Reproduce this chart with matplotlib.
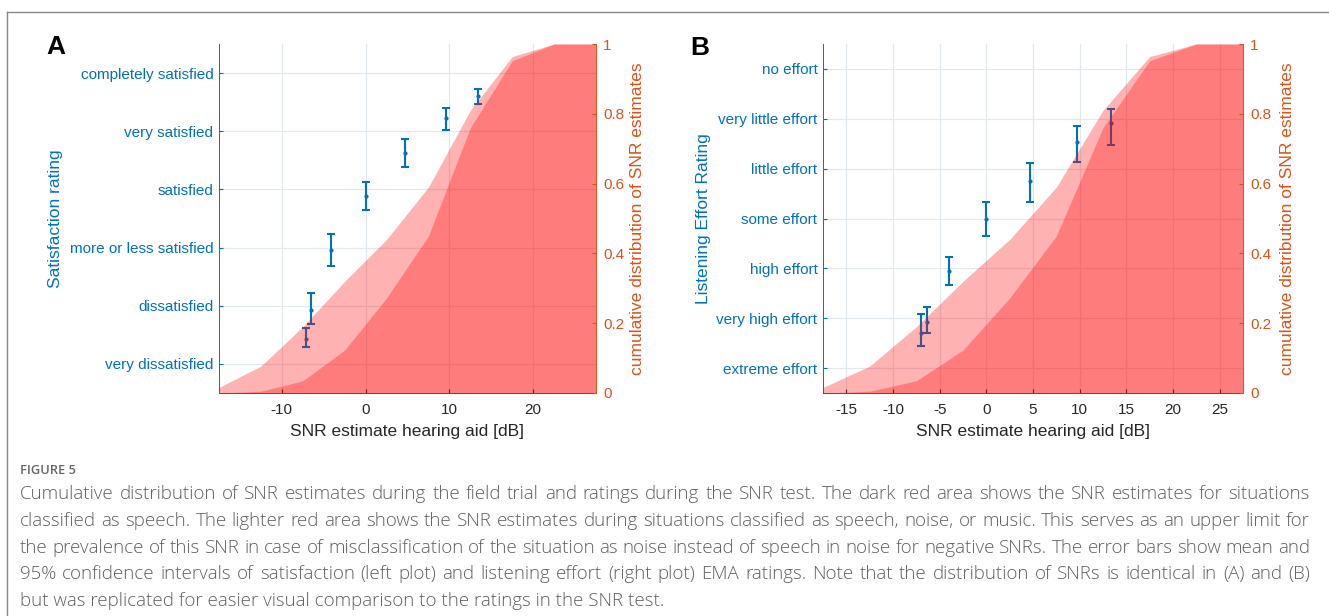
import numpy as np
import matplotlib.pyplot as plt
from matplotlib.lines import Line2D

plt.rcParams['font.family'] = ['Liberation Sans', 'DejaVu Sans']
plt.rcParams['axes.unicode_minus'] = False

# cumulative distribution of SNR estimates (same in A and B)
snr_bins = [-17.5, -12.5, -7.5, -2.5, 2.5, 7.5, 12.5, 17.5, 22.5, 27.5]
cdf_all = [0.016, 0.077, 0.19, 0.32, 0.44, 0.59, 0.81, 0.964, 1.0, 1.0]
cdf_speech = [0.0, 0.005, 0.035, 0.123, 0.272, 0.45, 0.76, 0.952, 1.0, 1.0]

# A: satisfaction ratings in the SNR test (mean, 95% CI)
snr_a = [-7.1, -6.5, -4.1, 0.0, 4.7, 9.6, 13.4]
sat_mean = [1.43, 1.93, 2.96, 3.89, 4.63, 5.22, 5.61]
sat_lo = [1.29, 1.69, 2.68, 3.65, 4.39, 5.02, 5.47]
sat_hi = [1.62, 2.22, 3.23, 4.12, 4.86, 5.40, 5.73]
sat_labels = ['very dissatisfied', 'dissatisfied', 'more or less satisfied',
              'satisfied', 'very satisfied', 'completely satisfied']

# B: listening effort ratings
snr_b = [-7.05, -6.4, -4.0, 0.0, 4.7, 9.7, 13.4]
eff_mean = [1.70, 1.93, 2.95, 3.99, 4.76, 5.54, 5.92]
eff_lo = [1.44, 1.70, 2.67, 3.65, 4.34, 5.13, 5.48]
eff_hi = [2.08, 2.22, 3.23, 4.33, 5.11, 5.85, 6.20]
eff_labels = ['extreme effort', 'very high effort', 'high effort', 'some effort',
              'little effort', 'very little effort', 'no effort']

cdf_ticks = [0, 0.2, 0.4, 0.6, 0.8, 1]
cdf_ticklabels = ['0', '0.2', '0.4', '0.6', '0.8', '1']

caption_title = 'FIGURE 5'
caption_lines = [
    'Cumulative distribution of SNR estimates during the field trial and ratings during the SNR test. The dark red area shows the SNR estimates for situations',
    'classified as speech. The lighter red area shows the SNR estimates during situations classified as speech, noise, or music. This serves as an upper limit for',
    'the prevalence of this SNR in case of misclassification of the situation as noise instead of speech in noise for negative SNRs. The error bars show mean and',
    '95% confidence intervals of satisfaction (left plot) and listening effort (right plot) EMA ratings. Note that the distribution of SNRs is identical in (A) and (B)',
    'but was replicated for easier visual comparison to the ratings in the SNR test.',
]

BLUE = '#0072BD'
ORANGE = '#D95319'
DARK = '#262626'
GRID = '#e2e9ee'
CAPTION = '#606060'

W, H = 1329, 616
fig = plt.figure(figsize=(W / 100, H / 100), dpi=100)


def px(x0, y0, x1, y1):
    # pixel box -> figure fraction rect
    return [x0 / W, 1 - y1 / H, (x1 - x0) / W, (y1 - y0) / H]


def panel(rect, x, mean, lo, hi, labels, ylabel, xticks, ylab_x, rlab_x):
    ax = fig.add_axes(rect)
    err = [np.subtract(mean, lo), np.subtract(hi, mean)]
    ax.errorbar(x, mean, yerr=err, fmt='.', color=BLUE, ms=4, lw=1.5,
                capsize=2.6, capthick=1.5)
    ax.set_xlim(-17.5, 27.5)
    ax.set_ylim(0.5, len(labels) + 0.5)
    ax.set_xticks(xticks)
    ax.set_yticks(range(1, len(labels) + 1), labels)
    ax.grid(True, color=GRID, lw=0.9)
    ax.set_axisbelow(True)
    ax.spines['top'].set_visible(False)
    ax.spines['right'].set_visible(False)
    ax.spines['left'].set_color(BLUE)
    ax.spines['left'].set_linewidth(0.7)
    ax.spines['bottom'].set_color('#555555')
    ax.spines['bottom'].set_linewidth(0.7)
    ax.tick_params(axis='y', colors=BLUE, direction='in', length=3, labelsize=11, pad=4)
    ax.tick_params(axis='x', colors=DARK, direction='in', length=3, labelsize=11, pad=7)
    ax.set_ylabel(ylabel, color=BLUE, fontsize=12.5)
    ax.yaxis.set_label_coords(ylab_x, 0.5)
    ax.set_xlabel('SNR estimate hearing aid [dB]', color=DARK, fontsize=12.5, labelpad=5)

    ax2 = ax.twinx()
    ax2.fill_between(snr_bins, cdf_all, color='red', alpha=0.3, lw=0)
    ax2.fill_between(snr_bins, cdf_speech, color='red', alpha=0.3, lw=0)
    ax2.set_ylim(0, 1)
    ax2.set_yticks(cdf_ticks, cdf_ticklabels)
    for s in ['top', 'left', 'bottom']:
        ax2.spines[s].set_visible(False)
    ax2.spines['right'].set_color(ORANGE)
    ax2.spines['right'].set_linewidth(0.7)
    ax2.tick_params(axis='y', colors=ORANGE, direction='in', length=3, labelsize=11, pad=5)
    ax2.set_ylabel('cumulative distribution of SNR estimates', color=ORANGE, fontsize=12.5)
    ax2.yaxis.set_label_coords(rlab_x, 0.5)
    return ax, ax2


panel(px(219, 44, 596, 393), snr_a, sat_mean, sat_lo, sat_hi, sat_labels,
      'Satisfaction rating', [-10, 0, 10, 20], -0.415, 1.09)
panel(px(823, 44, 1243, 393), snr_b, eff_mean, eff_lo, eff_hi, eff_labels,
      'Listening Effort Rating', [-15, -10, -5, 0, 5, 10, 15, 20, 25], -0.267, 1.087)

fig.text(56 / W, 1 - 47 / H, 'A', fontsize=19, weight='bold', ha='center', va='center')
fig.text(700 / W, 1 - 48 / H, 'B', fontsize=19, weight='bold', ha='center', va='center')

# frame around the figure
fig.add_artist(Line2D([7 / W, 1], [1 - 12 / H, 1 - 12 / H], color='#888888', lw=1))
fig.add_artist(Line2D([7 / W, 7 / W], [0, 1 - 12 / H], color='#888888', lw=1))

# caption, justified between x=20 and x=1310 except for the last line
fig.text(20 / W, 1 - 470 / H, caption_title, fontsize=9.3, color='#666666',
         family='Open Sans', weight='semibold', va='center')

cap_kw = dict(fontsize=13.5, color=CAPTION, family='Open Sans', weight='light', va='center')
renderer = fig.canvas.get_renderer()
left, right = 20, 1310
for i, line in enumerate(caption_lines):
    y = 1 - (494 + 26.8 * i) / H
    if i == len(caption_lines) - 1:
        fig.text(left / W, y, line, **cap_kw)
        continue
    words = line.split(' ')
    texts = [fig.text(0, y, w, **cap_kw) for w in words]
    widths = [t.get_window_extent(renderer).width for t in texts]
    gap = (right - left - sum(widths)) / (len(words) - 1)
    xpos = left
    for t, wd in zip(texts, widths):
        t.set_x(xpos / W)
        xpos += wd + gap

fig.savefig('out.png', dpi=100)
